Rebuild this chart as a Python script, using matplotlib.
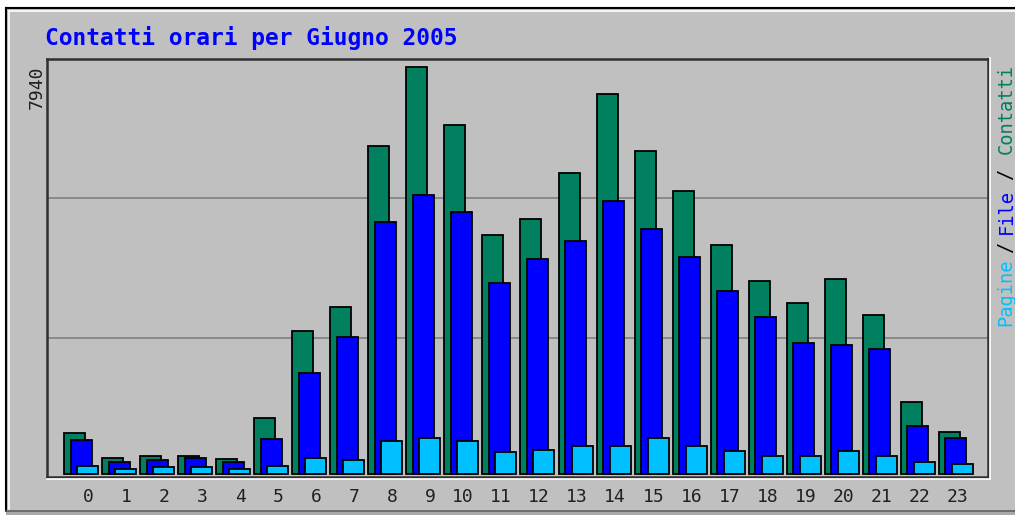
import numpy as np
import matplotlib
matplotlib.use('Agg')
import matplotlib.pyplot as plt
from matplotlib.patches import Rectangle
from matplotlib.lines import Line2D

hours = list(range(24))
contatti = [794, 318, 357, 351, 287, 1099, 2790, 3258, 6399, 7940, 6809, 4663,
            4975, 5872, 7414, 6302, 5521, 4468, 3765, 3336, 3804, 3102, 1411, 825]
file_ = [663, 240, 273, 312, 234, 677, 1971, 2673, 4917, 5443, 5112, 3726,
         4195, 4546, 5326, 4780, 4234, 3570, 3063, 2556, 2517, 2439, 942, 708]
pagine = [162, 92, 131, 131, 92, 162, 318, 273, 644, 702, 644, 429,
          468, 546, 546, 702, 552, 442, 357, 357, 442, 357, 240, 201]
max_label = '7940'

W, H = 1015, 515
BG = '#c0c0c0'
GREEN = '#00805f'
BLUE = '#0000ff'
CYAN = '#00c0ff'
MONO = 'DejaVu Sans Mono'

fig = plt.figure(figsize=(W / 100, H / 100), dpi=100, facecolor='white')

def fx(x):
    return x / W

def fy(y):
    return 1 - y / H

# outer panel with 3D border
fig.patches.append(Rectangle((fx(6), fy(512)), 1, fy(8) - fy(512), transform=fig.transFigure,
                             facecolor=BG, edgecolor='none', zorder=-5))
fig.patches.append(Rectangle((fx(6), 0), 1, fy(511), transform=fig.transFigure,
                             facecolor='#a8a8a8', edgecolor='none', zorder=-5))
fig.lines.append(Line2D([fx(6), fx(6)], [fy(511), fy(8)], transform=fig.transFigure, color='black', lw=1.5))
fig.lines.append(Line2D([fx(6), 1], [fy(8), fy(8)], transform=fig.transFigure, color='black', lw=1.5))
fig.lines.append(Line2D([fx(8.5), fx(8.5)], [fy(509), fy(10.5)], transform=fig.transFigure, color='white', lw=1.2))
fig.lines.append(Line2D([fx(8.5), 1], [fy(10.5), fy(10.5)], transform=fig.transFigure, color='white', lw=1.2))
fig.lines.append(Line2D([fx(6), 1], [fy(511), fy(511)], transform=fig.transFigure, color='#606060', lw=1.2))

# plot area in pixels: left 47, right 988, top 59, bottom 477
ax = fig.add_axes([fx(47), fy(477), fx(988) - fx(47), fy(59) - fy(477)])
ax.set_facecolor(BG)

step = 38.04
xmin = (47 - 74.5) / step
xmax = (988 - 74.5) / step
ymax_val = float(max_label)
per_px = ymax_val / (474 - 67)
ax.set_xlim(xmin, xmax)
ax.set_ylim(-3 * per_px, (474 - 59) * per_px)

# gridlines at 1/3 and 2/3 of the plot height
for k in (1, 2):
    ax.axhline(ax.get_ylim()[0] + (ax.get_ylim()[1] - ax.get_ylim()[0]) * k / 3,
               color='#808080', lw=1.2, zorder=1)

x = np.array(hours, dtype=float)
bw = 21 / step
ax.bar(x, contatti, width=bw, color=GREEN, edgecolor='black', linewidth=1.3, zorder=2)
ax.bar(x + 6.5 / step, file_, width=bw, color=BLUE, edgecolor='black', linewidth=1.3, zorder=3)
ax.bar(x + 13 / step, pagine, width=bw, color=CYAN, edgecolor='black', linewidth=1.3, zorder=4)

ax.set_xticks([])
ax.set_yticks([])
for s in ('top', 'left', 'bottom', 'right'):
    ax.spines[s].set_color('#303030')
    ax.spines[s].set_linewidth(1.8)
fig.lines.append(Line2D([fx(47), fx(990)], [fy(479), fy(479)], transform=fig.transFigure, color='white', lw=1.2))
fig.lines.append(Line2D([fx(990), fx(990)], [fy(479), fy(58)], transform=fig.transFigure, color='white', lw=1.2))

# hour labels
for h in hours:
    ax.text(h + 19 / step, -20 / 418, str(h), transform=ax.get_xaxis_transform(),
            ha='right', va='center', fontsize=13, family=MONO, color='#202020')

# title and max label
fig.text(fx(45), fy(45), 'Contatti orari per Giugno 2005', ha='left', va='baseline',
         fontsize=16.5, family=MONO, fontweight='bold', color=BLUE)
fig.text(fx(37), fy(87), max_label, rotation=90, ha='center', va='center',
         fontsize=13, family=MONO, color='#202020')

# right side legend
legend = [('Pagine', CYAN, 292.5), ('/', 'black', 247.5), ('File', BLUE, 211.5),
          ('/', 'black', 174), ('Contatti', GREEN, 109.5)]
for txt, col, yc in legend:
    fig.text(fx(1006), fy(yc), txt, rotation=90, rotation_mode='anchor', ha='center', va='center',
             fontsize=13.5, family=MONO, color=col)

fig.savefig('out.png', dpi=100, facecolor='white')
